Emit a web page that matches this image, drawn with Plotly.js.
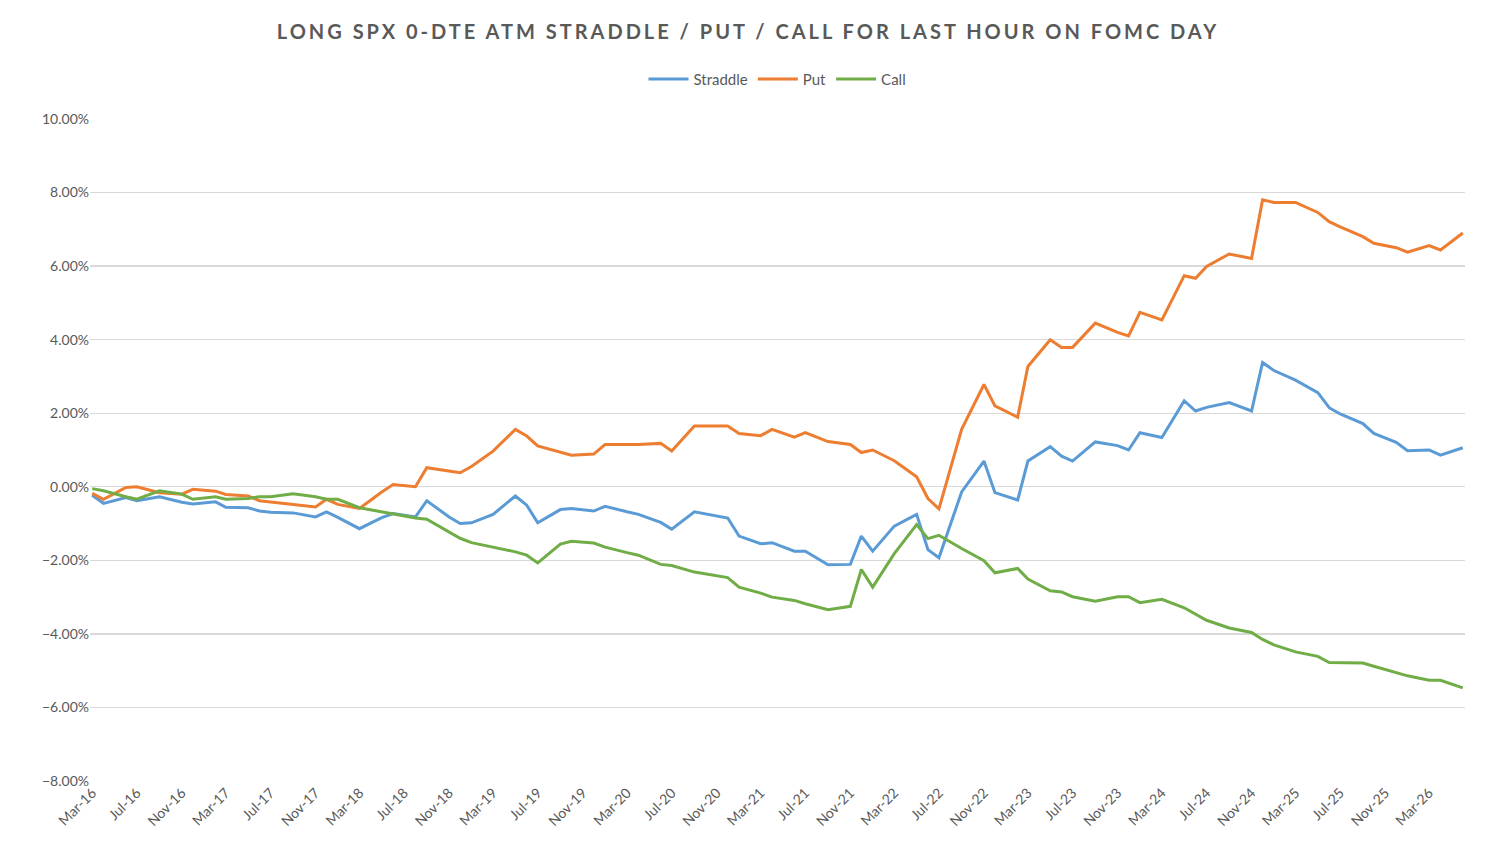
<!DOCTYPE html>
<html>
<head>
<meta charset="utf-8">
<script src="https://cdn.plot.ly/plotly-3.0.1.min.js"></script>
<style>
  html, body { margin: 0; padding: 0; background: #fff; }
  #chart { width: 1496px; height: 865px; }
</style>
</head>
<body>
<div id="chart"></div>
<script>
// FOMC meeting months, Mar-16 to Jun-26
const dates = [
  "2016-03-15","2016-04-15","2016-06-15","2016-07-15","2016-09-15","2016-11-15","2016-12-15",
  "2017-02-15","2017-03-15","2017-05-15","2017-06-15","2017-07-15","2017-09-15","2017-11-15","2017-12-15",
  "2018-01-15","2018-03-15","2018-05-15","2018-06-15","2018-08-15","2018-09-15","2018-11-15","2018-12-15",
  "2019-01-15","2019-03-15","2019-05-15","2019-06-15","2019-07-15","2019-09-15","2019-10-15","2019-12-15",
  "2020-01-15","2020-03-15","2020-04-15","2020-06-15","2020-07-15","2020-09-15","2020-11-15","2020-12-15",
  "2021-01-15","2021-03-15","2021-04-15","2021-06-15","2021-07-15","2021-09-15","2021-11-15","2021-12-15",
  "2022-01-15","2022-03-15","2022-05-15","2022-06-15","2022-07-15","2022-09-15","2022-11-15","2022-12-15",
  "2023-02-15","2023-03-15","2023-05-15","2023-06-15","2023-07-15","2023-09-15","2023-11-15","2023-12-15",
  "2024-01-15","2024-03-15","2024-05-15","2024-06-15","2024-07-15","2024-09-15","2024-11-15","2024-12-15",
  "2025-01-15","2025-03-15","2025-05-15","2025-06-15","2025-07-15","2025-09-15","2025-10-15","2025-12-15",
  "2026-01-15","2026-03-15","2026-04-15","2026-06-15"
];

// cumulative P&L, in percent
const straddle = [
  -0.23,-0.45,-0.29,-0.38,-0.27,-0.42,-0.47,
  -0.41,-0.56,-0.57,-0.66,-0.69,-0.71,-0.82,-0.68,
  -0.83,-1.14,-0.84,-0.73,-0.82,-0.38,-0.82,-1.00,
  -0.98,-0.75,-0.25,-0.50,-0.98,-0.62,-0.59,-0.66,
  -0.53,-0.68,-0.75,-0.97,-1.15,-0.68,-0.80,-0.85,
  -1.34,-1.55,-1.52,-1.75,-1.75,-2.12,-2.11,-1.34,
  -1.75,-1.07,-0.75,-1.71,-1.93,-0.14,0.70,-0.16,
  -0.36,0.70,1.09,0.83,0.70,1.22,1.12,1.00,
  1.47,1.34,2.34,2.06,2.16,2.29,2.06,3.38,
  3.16,2.90,2.56,2.15,1.98,1.72,1.45,1.21,
  0.98,1.00,0.86,1.06
];
const put = [
  -0.18,-0.34,-0.02,0.00,-0.16,-0.20,-0.07,
  -0.12,-0.21,-0.25,-0.38,-0.41,-0.48,-0.55,-0.34,
  -0.48,-0.59,-0.14,0.06,0.00,0.52,0.42,0.38,
  0.55,0.97,1.56,1.38,1.11,0.95,0.86,0.89,
  1.15,1.15,1.15,1.18,0.97,1.65,1.65,1.65,
  1.45,1.39,1.56,1.35,1.47,1.23,1.15,0.93,
  1.00,0.71,0.27,-0.32,-0.60,1.56,2.78,2.20,
  1.89,3.27,4.00,3.79,3.79,4.45,4.20,4.10,
  4.74,4.54,5.74,5.67,5.99,6.33,6.21,7.80,
  7.73,7.73,7.46,7.21,7.07,6.80,6.62,6.50,
  6.38,6.56,6.44,6.90
];
const call = [
  -0.05,-0.11,-0.27,-0.34,-0.11,-0.20,-0.34,
  -0.27,-0.34,-0.32,-0.27,-0.27,-0.19,-0.27,-0.34,
  -0.34,-0.57,-0.69,-0.74,-0.85,-0.88,-1.22,-1.40,
  -1.52,-1.65,-1.77,-1.86,-2.07,-1.56,-1.48,-1.53,
  -1.64,-1.79,-1.86,-2.11,-2.14,-2.32,-2.42,-2.47,
  -2.73,-2.89,-3.00,-3.09,-3.18,-3.34,-3.25,-2.25,
  -2.73,-1.82,-1.03,-1.41,-1.32,-1.68,-2.01,-2.34,
  -2.22,-2.51,-2.83,-2.86,-2.99,-3.11,-2.99,-2.99,
  -3.15,-3.06,-3.29,-3.46,-3.63,-3.84,-3.96,-4.15,
  -4.30,-4.49,-4.61,-4.78,-4.79,-4.79,-4.88,-5.06,
  -5.14,-5.26,-5.26,-5.47
];

const seriesNames = ["Straddle", "Put", "Call"];
const seriesColors = ["#5b9bd5", "#ed7d31", "#70ad47"];

const traces = [straddle, put, call].map((ys, i) => ({
  x: dates,
  y: ys,
  name: seriesNames[i],
  type: 'scatter',
  mode: 'lines',
  line: { color: seriesColors[i], width: 3 },
  hovertemplate: '%{x|%b-%y}: %{y:.2f}%<extra>' + seriesNames[i] + '</extra>'
}));

const layout = {
  width: 1496,
  height: 865,
  paper_bgcolor: '#fff',
  plot_bgcolor: '#fff',
  font: { family: 'Lato, "Open Sans", sans-serif', color: '#595959', size: 14 },
  margin: { l: 90, r: 31, t: 119, b: 84 },
  title: {
    text: 'LONG SPX 0-DTE ATM STRADDLE / PUT / CALL FOR LAST HOUR ON FOMC DAY',
    font: { size: 20, color: '#595959', family: 'Lato, "Open Sans", sans-serif', weight: 'bold' },
    x: 0.5, xanchor: 'center', y: 0.963, yanchor: 'middle'
  },
  showlegend: true,
  legend: {
    orientation: 'h', x: 0.5, xanchor: 'center', y: 1.06, yanchor: 'middle',
    font: { size: 15, color: '#595959' }, itemwidth: 40, tracegroupgap: 0
  },
  xaxis: {
    type: 'date',
    range: ['2016-03-09', '2026-06-21'],
    tick0: '2016-03-15',
    dtick: 'M4',
    tickformat: '%b-%y',
    tickangle: -45,
    ticks: '',
    showgrid: false,
    showline: false,
    zeroline: false,
    tickfont: { size: 14, color: '#595959' }
  },
  yaxis: {
    range: [-8, 10],
    dtick: 2,
    tickformat: '.2f',
    ticksuffix: '%',
    gridcolor: '#d9d9d9',
    gridwidth: 1.3,
    zeroline: false,
    showline: false,
    ticks: '',
    tickfont: { size: 14, color: '#595959' }
  }
};

Plotly.newPlot('chart', traces, layout, { displayModeBar: false, staticPlot: true }).then(function () {
  const t = document.querySelector('.gtitle');
  if (t) t.style.letterSpacing = '3px';
});
</script>
</body>
</html>
